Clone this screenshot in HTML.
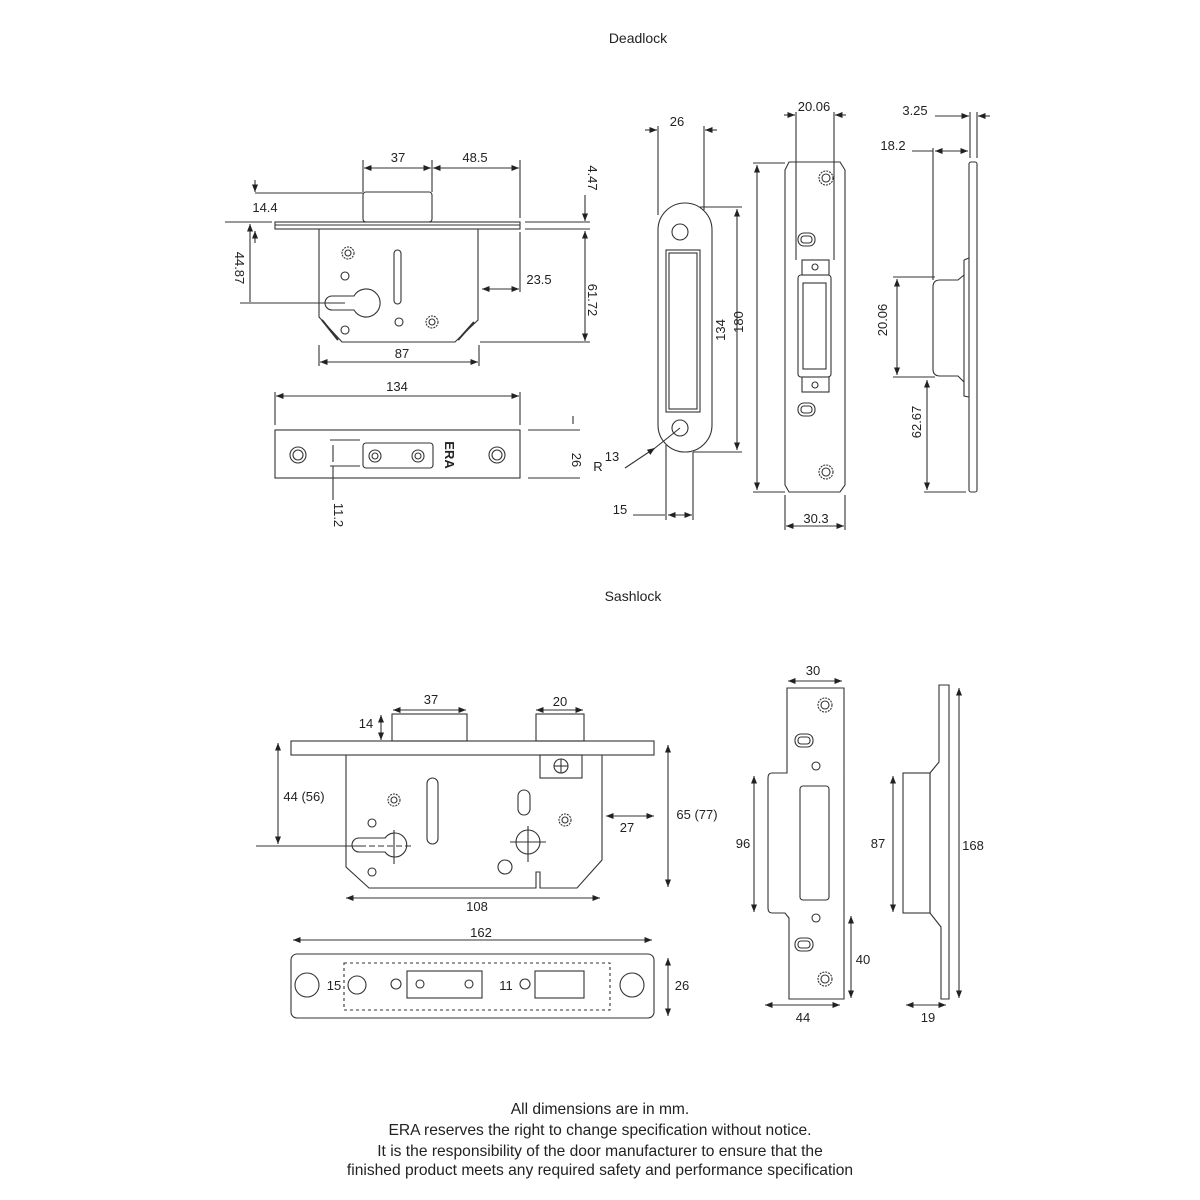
<!DOCTYPE html>
<html><head><meta charset="utf-8"><style>
html,body{margin:0;padding:0;background:#fff;}
svg{display:block;}
text{font-family:"Liberation Sans",sans-serif;font-size:13px;fill:#222;}
.t{font-size:14px;}
.f{font-size:15.6px;}
</style></head><body>
<svg width="1200" height="1200" viewBox="0 0 1200 1200" xmlns="http://www.w3.org/2000/svg">
<defs>
<marker id="a" viewBox="0 0 10 10" refX="10" refY="5" markerWidth="7" markerHeight="7" orient="auto-start-reverse"><path d="M0,1 L10,5 L0,9z" fill="#222"/></marker>
</defs>
<g fill="none" stroke="#333" stroke-width="1.1">
<rect x="275" y="222" width="245" height="7"/>
<line x1="275" y1="225" x2="520" y2="225"/>
<rect x="363" y="192" width="69" height="30" rx="3"/>
<path d="M319,229 V317 L342,342 H455 L478,320 V229"/>
<line x1="322" y1="320" x2="338" y2="340" stroke-width="2"/>
<line x1="474" y1="322" x2="458" y2="340" stroke-width="2"/>
<path d="M354,296 A14,14 0 1,1 354,310 H332 A7,7 0 0,1 332,296 Z"/>
<rect x="394" y="250" width="7" height="54" rx="3.5"/>
<circle cx="348" cy="253" r="6" stroke-dasharray="2 1"/><circle cx="348" cy="253" r="3"/>
<circle cx="345" cy="276" r="4"/><circle cx="345" cy="330" r="4"/><circle cx="399" cy="322" r="4"/>
<circle cx="432" cy="322" r="6" stroke-dasharray="2 1"/><circle cx="432" cy="322" r="3"/>
<line x1="363" y1="160" x2="363" y2="192"/><line x1="432" y1="160" x2="432" y2="192"/><line x1="520" y1="160" x2="520" y2="218"/>
<line x1="364" y1="168" x2="431" y2="168" marker-start="url(#a)" marker-end="url(#a)"/>
<line x1="433" y1="168" x2="519" y2="168" marker-start="url(#a)" marker-end="url(#a)"/>
<line x1="255" y1="193" x2="363" y2="193"/>
<line x1="255" y1="180" x2="255" y2="192" marker-end="url(#a)"/>
<line x1="255" y1="243" x2="255" y2="231" marker-end="url(#a)"/>
<line x1="225" y1="222" x2="272" y2="222"/>
<line x1="250" y1="224" x2="250" y2="302" marker-start="url(#a)"/>
<line x1="240" y1="303" x2="345" y2="303"/>
<line x1="525" y1="222" x2="590" y2="222"/><line x1="525" y1="229" x2="590" y2="229"/><line x1="480" y1="342" x2="590" y2="342"/>
<line x1="585" y1="195" x2="585" y2="221" marker-end="url(#a)"/>
<line x1="585" y1="231" x2="585" y2="341" marker-start="url(#a)" marker-end="url(#a)"/>
<line x1="520" y1="232" x2="520" y2="292"/>
<line x1="482" y1="289" x2="519" y2="289" marker-start="url(#a)" marker-end="url(#a)"/>
<line x1="319" y1="345" x2="319" y2="366"/><line x1="479" y1="345" x2="479" y2="366"/>
<line x1="320" y1="362" x2="478" y2="362" marker-start="url(#a)" marker-end="url(#a)"/>
<line x1="276" y1="396" x2="519" y2="396" marker-start="url(#a)" marker-end="url(#a)"/>
<line x1="275" y1="392" x2="275" y2="425"/><line x1="520" y1="392" x2="520" y2="425"/>
<rect x="275" y="430" width="245" height="48"/>
<circle cx="298" cy="455" r="8"/><circle cx="298" cy="455" r="5"/>
<circle cx="497" cy="455" r="8"/><circle cx="497" cy="455" r="5"/>
<rect x="363" y="443" width="70" height="25" rx="3"/>
<circle cx="375" cy="456" r="6"/><circle cx="375" cy="456" r="3"/>
<circle cx="418" cy="456" r="6"/><circle cx="418" cy="456" r="3"/>
<line x1="330" y1="440" x2="360" y2="440"/><line x1="330" y1="466" x2="360" y2="466"/>
<line x1="333" y1="445" x2="333" y2="462"/>
<line x1="333" y1="466" x2="333" y2="500"/>
<line x1="528" y1="430" x2="580" y2="430"/><line x1="528" y1="478" x2="580" y2="478"/>
<line x1="573" y1="416" x2="573" y2="424"/>
<rect x="658" y="203" width="54" height="249" rx="27"/>
<circle cx="680" cy="232" r="8"/><circle cx="680" cy="428" r="8"/>
<rect x="666" y="250" width="34" height="162"/><rect x="669" y="253" width="28" height="156"/>
<line x1="658" y1="126" x2="658" y2="215"/><line x1="704" y1="126" x2="704" y2="210"/>
<line x1="645" y1="130" x2="657" y2="130" marker-end="url(#a)"/><line x1="717" y1="130" x2="705" y2="130" marker-end="url(#a)"/>
<line x1="700" y1="207" x2="742" y2="207"/><line x1="693" y1="452" x2="742" y2="452"/>
<line x1="737" y1="209" x2="737" y2="450" marker-start="url(#a)" marker-end="url(#a)"/>
<line x1="753" y1="163" x2="785" y2="163"/><line x1="753" y1="492" x2="785" y2="492"/>
<line x1="757" y1="165" x2="757" y2="490" marker-start="url(#a)" marker-end="url(#a)"/>
<line x1="666" y1="445" x2="666" y2="520"/><line x1="693" y1="452" x2="693" y2="520"/>
<line x1="633" y1="515" x2="665" y2="515"/>
<line x1="668" y1="515" x2="692" y2="515" marker-start="url(#a)" marker-end="url(#a)"/>
<line x1="625" y1="468" x2="655" y2="448" marker-end="url(#a)"/><line x1="655" y1="448" x2="680" y2="428"/>
<path d="M789,162 H840 L845,170 V485 L840,492 H789 L785,485 V170 Z"/>
<circle cx="826" cy="178" r="7" stroke-dasharray="2 1"/><circle cx="826" cy="178" r="4"/>
<circle cx="826" cy="472" r="7" stroke-dasharray="2 1"/><circle cx="826" cy="472" r="4"/>
<rect x="798" y="233" width="17" height="13" rx="6"/><rect x="801" y="236" width="11" height="7" rx="3"/>
<rect x="798" y="403" width="17" height="13" rx="6"/><rect x="801" y="406" width="11" height="7" rx="3"/>
<rect x="802" y="260" width="27" height="15"/><circle cx="815" cy="267" r="3"/>
<rect x="802" y="377" width="27" height="15"/><circle cx="815" cy="385" r="3"/>
<rect x="798" y="275" width="33" height="102" rx="3"/><rect x="803" y="283" width="23" height="86"/>
<line x1="796" y1="112" x2="796" y2="260"/><line x1="834" y1="112" x2="834" y2="260"/>
<line x1="784" y1="115" x2="795" y2="115" marker-end="url(#a)"/><line x1="846" y1="115" x2="835" y2="115" marker-end="url(#a)"/>
<line x1="785" y1="495" x2="785" y2="530"/><line x1="845" y1="495" x2="845" y2="530"/>
<line x1="786" y1="526" x2="844" y2="526" marker-start="url(#a)" marker-end="url(#a)"/>
<rect x="969" y="162" width="8" height="330" rx="2"/>
<path d="M964,260 L969,258 M964,260 V275 L958,280 H940 Q933,280 933,287 V369 Q933,376 940,376 H958 L964,382 V396 L969,397"/>
<line x1="964" y1="275" x2="964" y2="382"/>
<line x1="935" y1="116" x2="969" y2="116" marker-end="url(#a)"/><line x1="990" y1="116" x2="978" y2="116" marker-end="url(#a)"/>
<line x1="970" y1="112" x2="970" y2="158"/><line x1="977" y1="112" x2="977" y2="158"/>
<line x1="912" y1="151" x2="933" y2="151"/><line x1="935" y1="151" x2="968" y2="151" marker-start="url(#a)" marker-end="url(#a)"/>
<line x1="933" y1="148" x2="933" y2="280"/>
<line x1="893" y1="277" x2="935" y2="277"/><line x1="893" y1="377" x2="935" y2="377"/>
<line x1="897" y1="279" x2="897" y2="375" marker-start="url(#a)" marker-end="url(#a)"/>
<line x1="927" y1="380" x2="927" y2="490" marker-start="url(#a)" marker-end="url(#a)"/>
<line x1="924" y1="492" x2="966" y2="492"/>
<rect x="291" y="741" width="363" height="14"/>
<rect x="392" y="714" width="75" height="27"/>
<rect x="536" y="714" width="48" height="27"/>
<path d="M346,755 V867 L369,888 H536 V872 H540 V888 H577 L602,860 V755"/>
<rect x="540" y="755" width="42" height="23"/>
<circle cx="561" cy="766" r="7"/><line x1="554" y1="766" x2="568" y2="766"/><line x1="561" y1="759" x2="561" y2="773"/>
<path d="M385,838 A12,12 0 1,1 385,852 H359 A7,7 0 0,1 359,838 Z"/>
<line x1="360" y1="846" x2="412" y2="846" stroke-dasharray="6 3"/><line x1="394" y1="830" x2="394" y2="864"/>
<rect x="427" y="778" width="11" height="66" rx="5.5"/>
<rect x="518" y="790" width="12" height="25" rx="6"/>
<circle cx="528" cy="842" r="12"/><line x1="510" y1="842" x2="546" y2="842"/><line x1="528" y1="826" x2="528" y2="862"/>
<circle cx="394" cy="800" r="6" stroke-dasharray="2 1"/><circle cx="394" cy="800" r="3"/>
<circle cx="565" cy="820" r="6" stroke-dasharray="2 1"/><circle cx="565" cy="820" r="3"/>
<circle cx="372" cy="823" r="4"/><circle cx="372" cy="872" r="4"/><circle cx="505" cy="867" r="7"/>
<line x1="393" y1="710" x2="466" y2="710" marker-start="url(#a)" marker-end="url(#a)"/>
<line x1="536" y1="710" x2="583" y2="710" marker-start="url(#a)" marker-end="url(#a)"/>
<line x1="381" y1="715" x2="381" y2="740" marker-start="url(#a)" marker-end="url(#a)"/>
<line x1="278" y1="743" x2="278" y2="844" marker-start="url(#a)" marker-end="url(#a)"/>
<line x1="256" y1="846" x2="360" y2="846"/>
<line x1="668" y1="745" x2="668" y2="887" marker-start="url(#a)" marker-end="url(#a)"/>
<line x1="606" y1="816" x2="654" y2="816" marker-start="url(#a)" marker-end="url(#a)"/>
<line x1="346" y1="898" x2="600" y2="898" marker-start="url(#a)" marker-end="url(#a)"/>
<line x1="293" y1="940" x2="652" y2="940" marker-start="url(#a)" marker-end="url(#a)"/>
<rect x="291" y="954" width="363" height="64" rx="6"/>
<rect x="344" y="963" width="266" height="47" stroke-dasharray="3 3"/>
<circle cx="307" cy="985" r="12"/><circle cx="357" cy="985" r="9"/><circle cx="396" cy="984" r="5"/>
<rect x="407" y="971" width="75" height="27"/><circle cx="420" cy="984" r="4"/><circle cx="469" cy="984" r="4"/>
<circle cx="525" cy="984" r="5"/><rect x="535" y="971" width="49" height="27"/>
<circle cx="632" cy="985" r="12"/>
<line x1="668" y1="958" x2="668" y2="1016" marker-start="url(#a)" marker-end="url(#a)"/>
<path d="M787,688 H844 V999 H789 V918 L785,913 H772 Q768,913 768,908 V778 Q768,773 772,773 H787 Z"/>
<circle cx="825" cy="705" r="7" stroke-dasharray="2 1"/><circle cx="825" cy="705" r="4"/>
<circle cx="825" cy="979" r="7" stroke-dasharray="2 1"/><circle cx="825" cy="979" r="4"/>
<rect x="795" y="734" width="18" height="13" rx="6"/><rect x="798" y="737" width="12" height="7" rx="3"/>
<rect x="795" y="938" width="18" height="13" rx="6"/><rect x="798" y="941" width="12" height="7" rx="3"/>
<circle cx="816" cy="766" r="4"/><circle cx="816" cy="918" r="4"/>
<rect x="800" y="786" width="29" height="114" rx="3"/>
<line x1="788" y1="681" x2="842" y2="681" marker-start="url(#a)" marker-end="url(#a)"/>
<line x1="754" y1="776" x2="754" y2="912" marker-start="url(#a)" marker-end="url(#a)"/>
<line x1="851" y1="916" x2="851" y2="998" marker-start="url(#a)" marker-end="url(#a)"/>
<line x1="765" y1="1005" x2="840" y2="1005" marker-start="url(#a)" marker-end="url(#a)"/>
<path d="M939,685 H949 V999 H941 V927 L930,913 V773 L939,762 Z"/>
<rect x="903" y="773" width="27" height="140"/>
<line x1="893" y1="776" x2="893" y2="912" marker-start="url(#a)" marker-end="url(#a)"/>
<line x1="959" y1="688" x2="959" y2="998" marker-start="url(#a)" marker-end="url(#a)"/>
<line x1="906" y1="1005" x2="946" y2="1005" marker-start="url(#a)" marker-end="url(#a)"/>
</g>
<g>
<text x="638" y="43" text-anchor="middle" class="t">Deadlock</text>
<text x="398" y="162" text-anchor="middle">37</text>
<text x="475" y="162" text-anchor="middle">48.5</text>
<text x="265" y="212" text-anchor="middle">14.4</text>
<text transform="translate(235,268) rotate(90)" text-anchor="middle">44.87</text>
<text transform="translate(588,178) rotate(90)" text-anchor="middle">4.47</text>
<text transform="translate(588,300) rotate(90)" text-anchor="middle">61.72</text>
<text x="539" y="284" text-anchor="middle">23.5</text>
<text x="402" y="358" text-anchor="middle">87</text>
<text x="397" y="391" text-anchor="middle">134</text>
<text transform="translate(445,455) rotate(90)" text-anchor="middle" font-size="16" font-weight="bold" fill="#888">ERA</text>
<text transform="translate(334,515) rotate(90)" text-anchor="middle">11.2</text>
<text transform="translate(572,460) rotate(90)" text-anchor="middle">26</text>
<text x="598" y="471" text-anchor="middle" font-size="12">R</text>
<text x="612" y="461" text-anchor="middle">13</text>
<text x="677" y="126" text-anchor="middle">26</text>
<text x="620" y="514" text-anchor="middle">15</text>
<text transform="translate(725,330) rotate(-90)" text-anchor="middle">134</text>
<text transform="translate(743,322) rotate(-90)" text-anchor="middle">180</text>
<text x="814" y="111" text-anchor="middle">20.06</text>
<text x="816" y="523" text-anchor="middle">30.3</text>
<text x="915" y="115" text-anchor="middle">3.25</text>
<text x="893" y="150" text-anchor="middle">18.2</text>
<text transform="translate(887,320) rotate(-90)" text-anchor="middle">20.06</text>
<text transform="translate(921,422) rotate(-90)" text-anchor="middle">62.67</text>
<text x="633" y="601" text-anchor="middle" class="t">Sashlock</text>
<text x="431" y="704" text-anchor="middle">37</text>
<text x="560" y="706" text-anchor="middle">20</text>
<text x="366" y="728" text-anchor="middle">14</text>
<text x="304" y="801" text-anchor="middle">44 (56)</text>
<text x="697" y="819" text-anchor="middle">65 (77)</text>
<text x="627" y="832" text-anchor="middle">27</text>
<text x="477" y="911" text-anchor="middle">108</text>
<text x="481" y="937" text-anchor="middle">162</text>
<text x="334" y="990" text-anchor="middle">15</text>
<text x="506" y="990" text-anchor="middle">11</text>
<text x="682" y="990" text-anchor="middle">26</text>
<text x="813" y="675" text-anchor="middle">30</text>
<text x="743" y="848" text-anchor="middle">96</text>
<text x="863" y="964" text-anchor="middle">40</text>
<text x="803" y="1022" text-anchor="middle">44</text>
<text x="878" y="848" text-anchor="middle">87</text>
<text x="973" y="850" text-anchor="middle">168</text>
<text x="928" y="1022" text-anchor="middle">19</text>
<text x="600" y="1114" text-anchor="middle" class="f">All dimensions are in mm.</text>
<text x="600" y="1135" text-anchor="middle" class="f">ERA reserves the right to change specification without notice.</text>
<text x="600" y="1156" text-anchor="middle" class="f">It is the responsibility of the door manufacturer to ensure that the</text>
<text x="600" y="1175" text-anchor="middle" class="f">finished product meets any required safety and performance specification</text>
</g>
</svg>
</body></html>
